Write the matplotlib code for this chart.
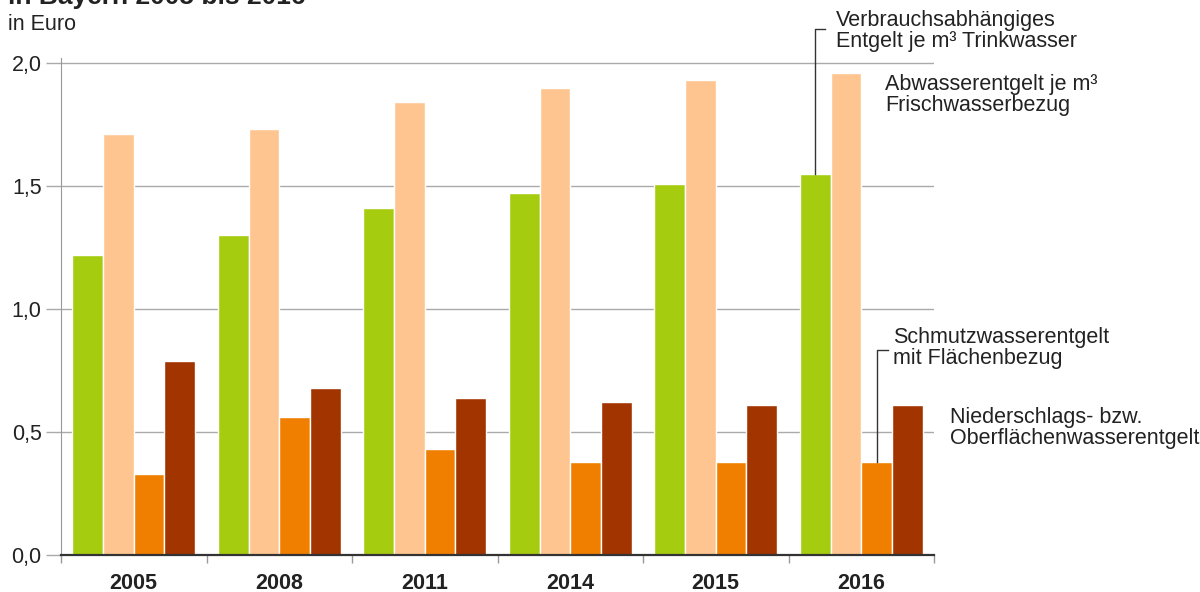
import matplotlib.pyplot as plt
import numpy as np

plt.rcParams['font.family'] = ['Liberation Sans', 'DejaVu Sans']

years = ["2005", "2008", "2011", "2014", "2015", "2016"]
trinkwasser = [1.22, 1.30, 1.41, 1.47, 1.51, 1.55]
abwasser = [1.71, 1.73, 1.84, 1.90, 1.93, 1.96]
schmutzwasser = [0.33, 0.56, 0.43, 0.38, 0.38, 0.38]
niederschlag = [0.79, 0.68, 0.64, 0.62, 0.61, 0.61]
y_ticks = [0.0, 0.5, 1.0, 1.5, 2.0]
y_labels = ["0,0", "0,5", "1,0", "1,5", "2,0"]

series = [trinkwasser, abwasser, schmutzwasser, niederschlag]
colors = ['#a6cc0f', '#fec590', '#f07f00', '#a23400']

fig = plt.figure(figsize=(12, 5.92), dpi=100)
ax = fig.add_axes([61 / 1200, 1 - 555 / 592, (934 - 61) / 1200, (555 - 58) / 592])

x = np.arange(len(years))
w = 0.211
for i, (vals, c) in enumerate(zip(series, colors)):
    ax.bar(x + (i - 1.5) * w, vals, width=w, color=c, edgecolor='white',
           linewidth=1.0, zorder=3)

ax.set_xlim(-0.5, len(years) - 0.5)
ax.set_ylim(0, 2.0 * 497 / 492)
ax.set_yticks(y_ticks)
ax.set_yticklabels(y_labels, fontsize=15.5, color='#222222')
ax.yaxis.grid(True, color='#aaaaaa', linewidth=1.0, zorder=0)
ax.tick_params(axis='y', length=11, color='#aaaaaa', width=1.0, pad=3)

ax.set_xticks(x)
ax.set_xticklabels(years, fontsize=15.5, fontweight='bold', color='#222222')
ax.tick_params(axis='x', length=0, pad=13)
ax.set_xticks(np.arange(len(years) + 1) - 0.5, minor=True)
ax.tick_params(axis='x', which='minor', length=6, color='#999999', width=1.0)

for s in ['top', 'right']:
    ax.spines[s].set_visible(False)
ax.spines['left'].set_color('#999999')
ax.spines['bottom'].set_color('#333333')
ax.spines['bottom'].set_linewidth(1.6)
ax.spines['bottom'].set_zorder(4)

# annotations with leader lines
gx = x[-1] - 1.5 * w
ax.plot([gx, gx, gx + 0.07], [trinkwasser[-1], 2.14, 2.14], color='#333333',
        linewidth=1.0, clip_on=False, zorder=5)
ox = x[-1] + 0.5 * w
ax.plot([ox, ox, ox + 0.08], [schmutzwasser[-1], 0.835, 0.835], color='#333333',
        linewidth=1.0, clip_on=False, zorder=5)

fs = 15.5
fig.text(836 / 1200, 1 - 31 / 592, "Verbrauchsabhängiges\nEntgelt je m³ Trinkwasser",
         fontsize=fs, color='#222222', va='center', linespacing=0.98)
fig.text(885 / 1200, 1 - 95 / 592, "Abwasserentgelt je m³\nFrischwasserbezug",
         fontsize=fs, color='#222222', va='center', linespacing=0.98)
fig.text(893 / 1200, 1 - 348 / 592, "Schmutzwasserentgelt\nmit Flächenbezug",
         fontsize=fs, color='#222222', va='center', linespacing=0.98)
fig.text(950 / 1200, 1 - 428 / 592, "Niederschlags- bzw.\nOberflächenwasserentgelt",
         fontsize=fs, color='#222222', va='center', linespacing=0.98)

fig.text(8 / 1200, 1 - 4 / 592, "in Bayern 2005 bis 2016", fontsize=19,
         fontweight='bold', color='#222222', va='baseline')
fig.text(8 / 1200, 1 - 25 / 592, "in Euro", fontsize=15.5, color='#222222', va='center')

fig.savefig('out.png', dpi=100, facecolor='white')
